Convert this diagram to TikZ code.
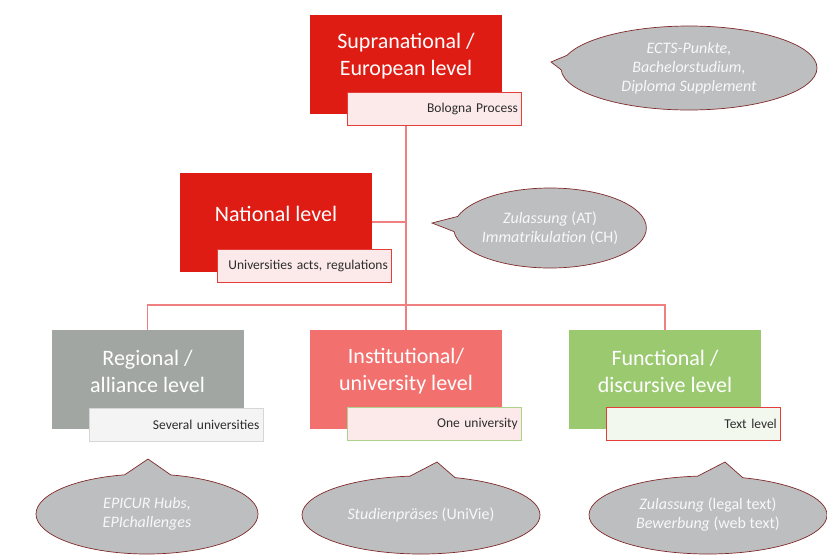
\documentclass[tikz,border=0pt]{standalone}
\usepackage{fontspec}
\setmainfont{Carlito}
\usepackage{tikz}
\usepackage{xcolor}
\usetikzlibrary{shapes,shapes.callouts,positioning}
\definecolor{eured}{RGB}{223, 28, 20}
\definecolor{regiongray}{RGB}{161, 166, 163}
\definecolor{unired}{RGB}{242, 113, 110}
\definecolor{funcgreen}{RGB}{155, 201, 112}
\definecolor{tagtext}{RGB}{45, 45, 45}
\definecolor{tagpink}{RGB}{252, 233, 233}
\definecolor{taggray}{RGB}{244, 244, 244}
\definecolor{taggreen}{RGB}{243, 248, 239}
\definecolor{tagred}{RGB}{228, 62, 58}
\definecolor{tagline}{RGB}{214, 214, 214}
\definecolor{tagleaf}{RGB}{172, 211, 140}
\definecolor{linkred}{RGB}{240, 128, 128}
\definecolor{bubblefill}{RGB}{189, 190, 192}
\definecolor{bubbleline}{RGB}{128, 42, 42}
\definecolor{bubbletext}{RGB}{248, 248, 248}
\tikzstyle{link} = [
    draw=linkred,
    line width=1.1pt
]
\tikzstyle{levelbox} = [
    rectangle,
    minimum width=192pt,
    minimum height=99pt,
    inner sep=0pt
]
\tikzstyle{leveltext} = [
    text=white,
    align=center,
    yshift=8pt,
    font=\fontsize{22}{27}\selectfont
]
\tikzstyle{tagbox} = [
    rectangle,
    anchor=south east,
    minimum height=33pt,
    inner sep=4pt,
    text width=166pt,
    align=right,
    line width=0.8pt,
    text=tagtext,
    font=\fontsize{13.5}{15}\selectfont
]
\tikzstyle{bubble} = [
    ellipse callout,
    inner sep=0pt,
    align=center,
    fill=bubblefill,
    draw=bubbleline,
    line width=0.7pt,
    text=bubbletext,
    font=\fontsize{16}{19}\selectfont
]

\begin{document}
\begin{tikzpicture}[x=1pt, y=-1pt]
    \useasboundingbox (0,0) rectangle (827,555);

    % level boxes
    \node[levelbox, fill=eured, label={[leveltext]center:{Supranational /\\European level}}] (top) at (406,64) {};
    \node[levelbox, fill=eured, label={[leveltext]center:{National level}}] (national) at (276,222) {};
    \node[levelbox, fill=regiongray, label={[leveltext]center:{Regional /\\alliance level}}] (regional) at (147.5,379.5) {};
    \node[levelbox, fill=unired, label={[leveltext]center:{Institutional/\\university level}}] (institutional) at (406,379.5) {};
    \node[levelbox, fill=funcgreen, label={[leveltext]center:{Functional /\\discursive level}}] (functional) at (665,379.5) {};

    % small tags on the boxes
    \node[tagbox, fill=tagpink, draw=tagred] (bologna) at ([shift={(20,12)}]top.south east) {Bologna Process};
    \node[tagbox, fill=tagpink, draw=tagred] (acts) at ([shift={(20,11)}]national.south east) {Universities acts, regulations};
    \node[tagbox, fill=taggray, draw=tagline] (several) at ([shift={(20,13)}]regional.south east) {Several universities};
    \node[tagbox, fill=tagpink, draw=tagleaf] (oneuni) at ([shift={(20,12)}]institutional.south east) {One university};
    \node[tagbox, fill=taggreen, draw=tagred] (textlevel) at ([shift={(20,12)}]functional.south east) {Text level};

    % connectors
    \coordinate (hub) at (406,305);
    \draw[link] (bologna.south -| top) -- (hub);
    \draw[link] (national.east) -- (national.east -| hub);
    \draw[link] (regional.north) |- (hub) -| (functional.north);
    \draw[link] (hub) -- (institutional.north);

    % callouts
    \node[bubble, minimum width=256pt, minimum height=84pt, callout pointer arc=20,
        callout absolute pointer={(551,62)}] (ects) at (689,68)
        {\textit{ECTS-Punkte,}\\\textit{Bachelorstudium,}\\\textit{Diploma Supplement}};
    \node[bubble, minimum width=192pt, minimum height=80pt, callout pointer arc=22,
        callout absolute pointer={(432,223)}] (zulassung) at (550,228)
        {\textit{Zulassung} (AT)\\\textit{Immatrikulation} (CH)};
    \node[bubble, minimum width=222pt, minimum height=80pt, callout pointer arc=24,
        callout absolute pointer={(148,459)}] (epicur) at (147,514)
        {\textit{EPICUR Hubs,}\\\textit{EPIchallenges}};
    \node[bubble, minimum width=238pt, minimum height=78pt, callout pointer arc=22,
        callout absolute pointer={(437,462)}] (univie) at (421,515)
        {\textit{Studienpräses} (UniVie)};
    \node[bubble, minimum width=238pt, minimum height=78pt, callout pointer arc=22,
        callout absolute pointer={(725,462)}] (bewerbung) at (708,515)
        {\textit{Zulassung} (legal text)\\\textit{Bewerbung} (web text)};
\end{tikzpicture}
\end{document}
